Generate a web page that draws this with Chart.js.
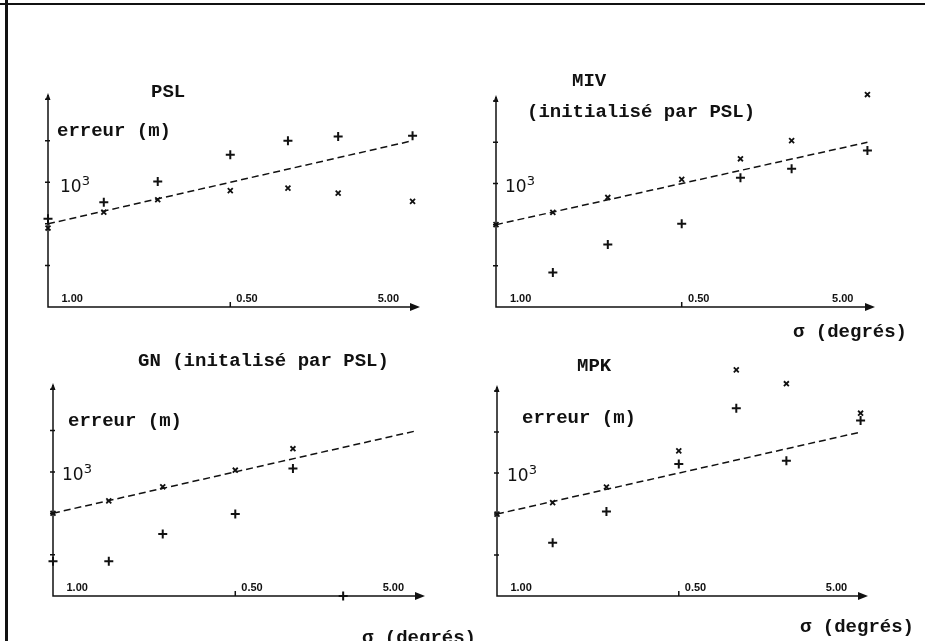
<!DOCTYPE html>
<html>
<head>
<meta charset="utf-8">
<script src="https://cdn.jsdelivr.net/npm/chart.js@4.4.1/dist/chart.umd.min.js"></script>
<style>
  body { margin: 0; width: 925px; height: 641px; overflow: hidden; background: #fff; position: relative; }
  canvas { position: absolute; }
  .frame-top { position: absolute; left: 0; top: 3px; width: 925px; height: 2px; background: #111; }
  .frame-left { position: absolute; left: 5px; top: 0; width: 3px; height: 641px; background: #111; }
  .t { position: absolute; font-family: "Liberation Mono", monospace; font-weight: bold; font-size: 19px; line-height: 1; color: #111; white-space: nowrap; }
  .p { position: absolute; font-family: "DejaVu Sans", sans-serif; font-size: 17px; line-height: 1; color: #111; }
  .p sup { font-size: 13px; vertical-align: 7px; }
</style>
</head>
<body>
<div class="frame-top"></div>
<div class="frame-left"></div>

<canvas id="psl" width="462" height="290" style="left:0;top:40px"></canvas>
<canvas id="miv" width="463" height="290" style="left:462px;top:40px"></canvas>
<canvas id="gn" width="462" height="300" style="left:0;top:330px"></canvas>
<canvas id="mpk" width="463" height="300" style="left:462px;top:330px"></canvas>

<div class="t" style="left:151px;top:83px">PSL</div>
<div class="t" style="left:57px;top:122px">erreur (m)</div>
<div class="p" style="left:60px;top:174px">10<sup>3</sup></div>

<div class="t" style="left:572px;top:72px">MIV</div>
<div class="t" style="left:527px;top:103px">(initialisé par PSL)</div>
<div class="p" style="left:505px;top:174px">10<sup>3</sup></div>
<div class="t" style="left:793px;top:323px">σ (degrés)</div>

<div class="t" style="left:138px;top:352px">GN (initalisé par PSL)</div>
<div class="t" style="left:68px;top:412px">erreur (m)</div>
<div class="p" style="left:62px;top:462px">10<sup>3</sup></div>
<div class="t" style="left:362px;top:629px">σ (degrés)</div>

<div class="t" style="left:577px;top:357px">MPK</div>
<div class="t" style="left:522px;top:409px">erreur (m)</div>
<div class="p" style="left:507px;top:463px">10<sup>3</sup></div>
<div class="t" style="left:800px;top:618px">σ (degrés)</div>

<script>
// positions of the measurements along the sigma axis (0..100 = origin..arrow)
const sigmaPos = [0, 15, 29.5, 49, 64.5, 78, 98];

// log10 of the error (m); 3 = 10^3
const pslPlus  = [2.56, 2.76, 3.01, 3.33, 3.50, 3.55, 3.56];
const pslCross = [2.45, 2.64, 2.79, 2.90, 2.93, 2.87, 2.77];

const mivCross = [2.50, 2.65, 2.83, 3.05, 3.30, 3.52, 4.08];
const mivPlus  = [null, 1.92, 2.26, 2.51, 3.07, 3.18, 3.40];

const gnCross  = [2.50, 2.65, 2.82, 3.02, 3.28, null, null];
const gnPlus   = [1.92, 1.92, 2.25, 2.49, 3.04, 1.50, null];

const mpkCross = [2.50, 2.64, 2.83, 3.27, 4.26, 4.09, 3.73];
const mpkPlus  = [null, 2.15, 2.53, 3.11, 3.79, 3.15, 3.64];

// dashed reference line
const trendX = [0, 98];
const trendY = [2.5, 3.5];

// axis range and ticks
const yMin = 1.5;
const yAxisTop = 4.05;   // where the drawn axis arrow stops
const yMax = 4.35;       // room for the points above the arrow
const yTicks = [2, 2.5, 3, 3.5, 4];
const xTickMarks = [49];
const xTickLabels = ['1.00', '0.50', '5.00'];
const xTickLabelPos = [6.5, 53.5, 91.5];

const toPoints = ys => ys.map((y, i) => ({ x: sigmaPos[i], y })).filter(p => p.y !== null);

const axesPlugin = {
  id: 'axes',
  afterDraw(chart) {
    const { ctx, chartArea: a, scales: { x, y } } = chart;
    const top = y.getPixelForValue(yAxisTop);
    ctx.save();
    ctx.strokeStyle = '#111';
    ctx.fillStyle = '#111';
    ctx.lineWidth = 1.5;
    ctx.beginPath();
    ctx.moveTo(a.left, top);
    ctx.lineTo(a.left, a.bottom);
    ctx.lineTo(a.right - 4, a.bottom);
    yTicks.forEach(v => {
      const py = y.getPixelForValue(v);
      ctx.moveTo(a.left - 3, py);
      ctx.lineTo(a.left + 2, py);
    });
    xTickMarks.forEach(v => {
      const px = x.getPixelForValue(v);
      ctx.moveTo(px, a.bottom);
      ctx.lineTo(px, a.bottom - 5);
    });
    ctx.stroke();
    // arrow heads
    ctx.beginPath();
    ctx.moveTo(a.right, a.bottom);
    ctx.lineTo(a.right - 10, a.bottom - 4);
    ctx.lineTo(a.right - 10, a.bottom + 4);
    ctx.closePath();
    ctx.fill();
    ctx.beginPath();
    ctx.moveTo(a.left, top - 2);
    ctx.lineTo(a.left - 2.5, top + 5);
    ctx.lineTo(a.left + 2.5, top + 5);
    ctx.closePath();
    ctx.fill();
    // sigma labels sit just above the axis
    ctx.font = 'bold 11px "Liberation Sans"';
    ctx.textAlign = 'center';
    ctx.textBaseline = 'alphabetic';
    xTickLabels.forEach((t, i) => {
      ctx.fillText(t, x.getPixelForValue(xTickLabelPos[i]), a.bottom - 5);
    });
    ctx.restore();
  }
};

// box: l/r = axis ends, t = arrow tip of the y axis, b = x axis line (page pixels)
function makePanel(id, box, plusVals, crossVals) {
  const canvas = document.getElementById(id);
  const left = parseFloat(canvas.style.left) || 0;
  const top = parseFloat(canvas.style.top) || 0;
  const k = (box.b - box.t) / (yAxisTop - yMin);
  const chartTop = box.b - (yMax - yMin) * k;
  const padding = {
    left: box.l - left,
    top: chartTop - top,
    right: left + canvas.width - box.r,
    bottom: top + canvas.height - box.b
  };
  new Chart(canvas, {
    type: 'scatter',
    data: {
      datasets: [
        {
          type: 'line',
          data: trendX.map((v, i) => ({ x: v, y: trendY[i] })),
          borderColor: '#111',
          borderWidth: 1.5,
          borderDash: [7, 4],
          pointRadius: 0,
          fill: false
        },
        {
          data: toPoints(plusVals),
          pointStyle: 'cross',
          pointRadius: 4.5,
          borderColor: '#111',
          borderWidth: 2,
          clip: false
        },
        {
          data: toPoints(crossVals),
          pointStyle: 'crossRot',
          pointRadius: 3.5,
          borderColor: '#111',
          borderWidth: 1.8,
          clip: false
        }
      ]
    },
    options: {
      responsive: false,
      animation: false,
      layout: { padding },
      plugins: { legend: { display: false }, tooltip: { enabled: false } },
      scales: {
        x: { type: 'linear', min: 0, max: 100, display: false },
        y: { type: 'linear', min: yMin, max: yMax, display: false }
      }
    },
    plugins: [axesPlugin]
  });
}

makePanel('psl', { l: 48, t: 95, r: 420, b: 307 }, pslPlus, pslCross);
makePanel('miv', { l: 496, t: 97, r: 875, b: 307 }, mivPlus, mivCross);
makePanel('gn',  { l: 53, t: 385, r: 425, b: 596 }, gnPlus, gnCross);
makePanel('mpk', { l: 497, t: 387, r: 868, b: 596 }, mpkPlus, mpkCross);
</script>
</body>
</html>
